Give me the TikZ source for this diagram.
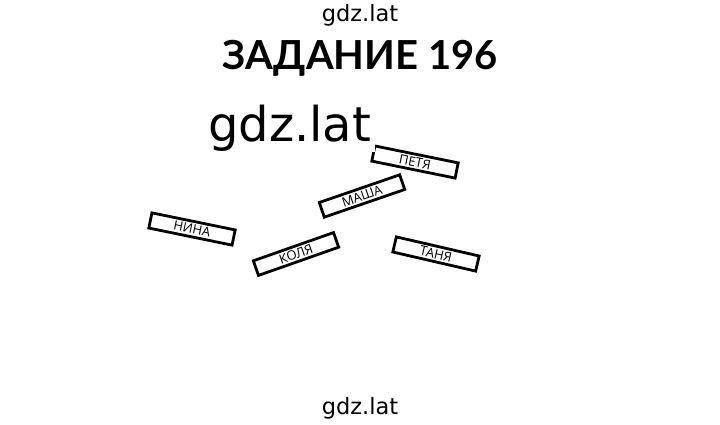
\documentclass[tikz,border=0pt]{standalone}
\usepackage{fontspec}
\setmainfont{Open Sans}
\newfontfamily\titlefont{Lato}
\newfontfamily\markfont{DejaVu Sans}
\begin{document}
\begin{tikzpicture}[x=1pt,y=-1pt,
  namebox/.style={draw=black, line width=2.8pt, minimum width=85pt, minimum height=15.5pt, inner sep=0pt, font=\fontsize{13}{14}\selectfont},
  wmark/.style={font=\markfont\fontsize{22.5}{24}\selectfont}]
\useasboundingbox (0,0) rectangle (720,425);
\node[wmark] (wtop) at (360,15) {gdz.lat};
\node[font=\titlefont\bfseries\fontsize{40}{44}\selectfont] (title) at (360,58) {ЗАДАНИЕ 196};
\node[namebox, rotate=-11.5] (petya) at (415,162) {ПЕТЯ};
\node[namebox, rotate=19] (masha) at (362,196) {МАША};
\node[namebox, rotate=-11.6] (nina) at (192,229) {НИНА};
\node[namebox, rotate=19.4] (kolya) at (296,254) {КОЛЯ};
\node[namebox, rotate=-13] (tanya) at (436,254) {ТАНЯ};
\node[fill=white, inner xsep=4pt, inner ysep=0pt, font=\markfont\fontsize{48}{50}\selectfont, anchor=base west] (wbig) at (204,142) {gdz.lat};
\node[wmark] (wbot) at (360,408) {gdz.lat};
\end{tikzpicture}
\end{document}
